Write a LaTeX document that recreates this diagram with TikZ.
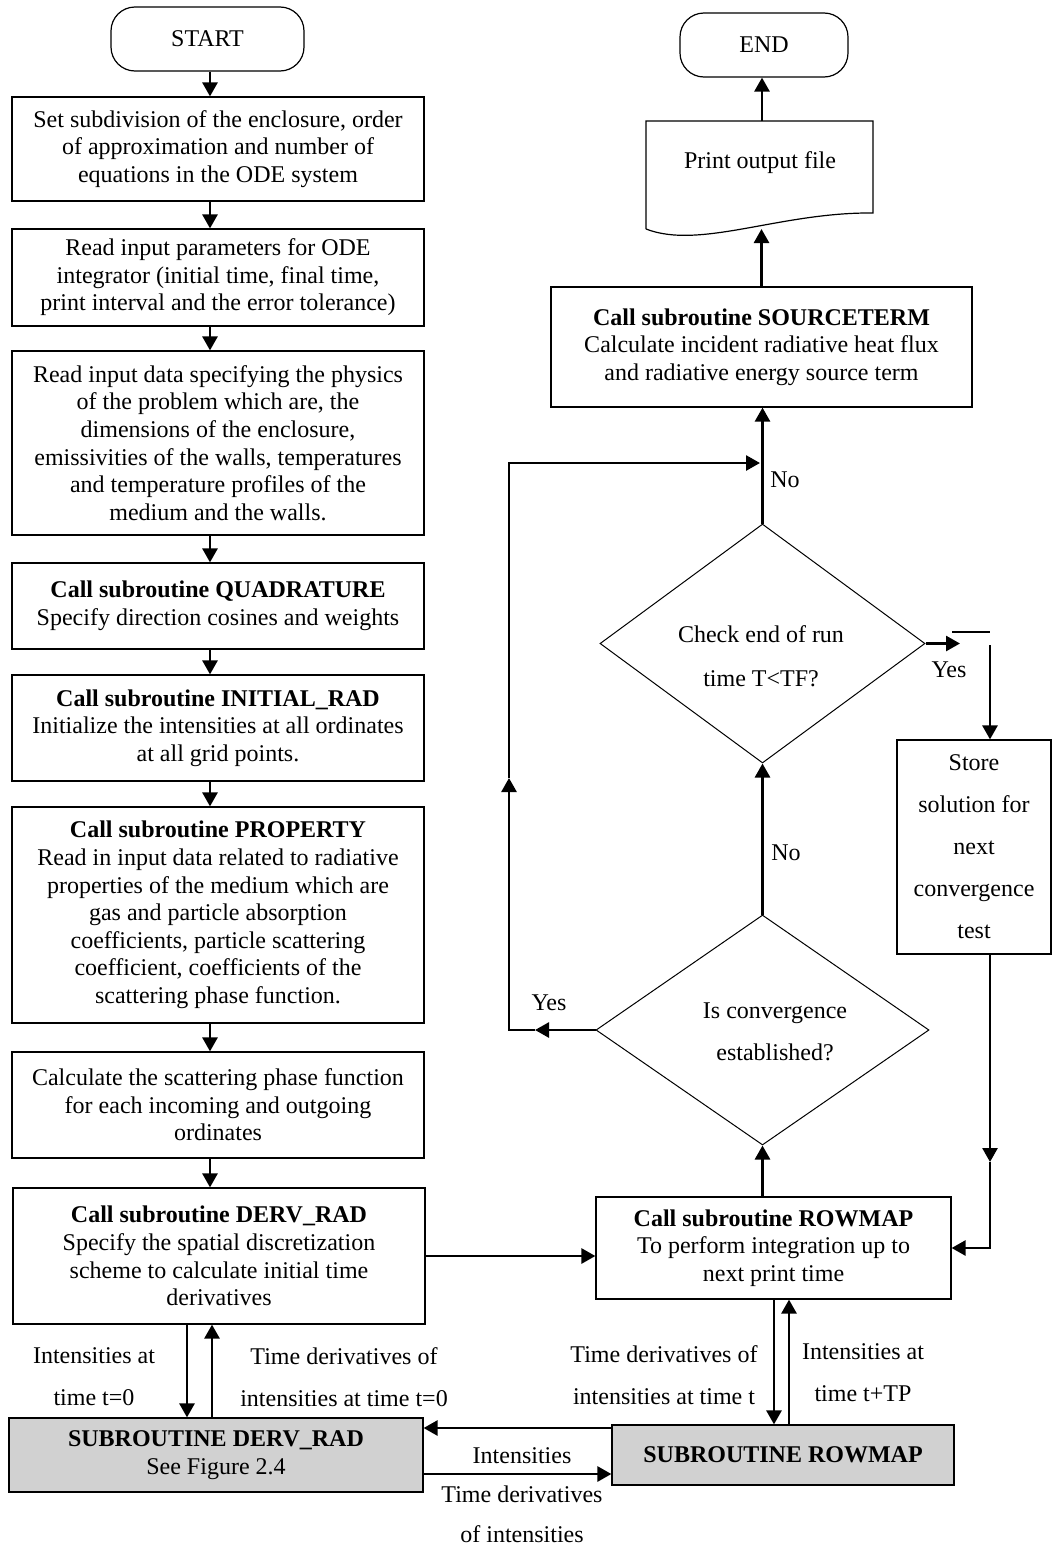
\documentclass[tikz,border=0pt]{standalone}
\usepackage{fontspec}
\setmainfont{Liberation Serif}
\usetikzlibrary{arrows.meta,shapes.geometric}
\definecolor{subgray}{RGB}{209,209,209}
\begin{document}
\begin{tikzpicture}[x=0.5pt,y=-0.5pt,
  every node/.style={font=\fontsize{12pt}{13.8pt}\selectfont, inner sep=0pt, align=center},
  box/.style={draw, line width=0.6pt},
  lbox/.style={box, minimum width=206pt},
  sub/.style={box, fill=subgray},
  term/.style={draw, line width=0.6pt, rounded corners=12pt},
  dia/.style={draw, line width=0.5pt, diamond},
  dbl/.style={font=\fontsize{12pt}{21pt}\selectfont},
  arr/.style={line width=1.35pt, -{Triangle[length=7pt,width=7.5pt]}},
  ln/.style={line width=1.35pt},
]
\useasboundingbox (0,0) rectangle (1053,1547);

% left column
\node[term, minimum width=96.5pt, minimum height=32pt] (start) at (207.5,39) {START};
\node[lbox, minimum height=52pt] (b1) at (218,149) {Set subdivision of the enclosure, order\\of approximation and number of\\equations in the ODE system};
\node[lbox, minimum height=48.5pt] (b2) at (218,277.5) {Read input parameters for ODE\\integrator (initial time, final time,\\print interval and the error tolerance)};
\node[lbox, minimum height=92pt] (b3) at (218,443) {Read input data specifying the physics\\of the problem which are, the\\dimensions of the enclosure,\\emissivities of the walls, temperatures\\and temperature profiles of the\\medium and the walls.};
\node[lbox, minimum height=43pt] (b4) at (218,606) {\textbf{Call subroutine QUADRATURE}\\Specify direction cosines and weights};
\node[lbox, minimum height=53pt] (b5) at (218,728) {\textbf{Call subroutine INITIAL\_RAD}\\Initialize the intensities at all ordinates\\at all grid points.};
\node[lbox, minimum height=108pt] (b6) at (218,915) {\textbf{Call subroutine PROPERTY}\\Read in input data related to radiative\\properties of the medium which are\\gas and particle absorption\\coefficients, particle scattering\\coefficient, coefficients of the\\scattering phase function.};
\node[lbox, minimum height=53pt] (b7) at (218,1105) {Calculate the scattering phase function\\for each incoming and outgoing\\ordinates};
\node[lbox, minimum height=68pt] (b8) at (219,1256) {\textbf{Call subroutine DERV\_RAD}\\Specify the spatial discretization\\scheme to calculate initial time\\derivatives};

% bottom subroutines
\node[sub, minimum width=207pt, minimum height=37pt] (sd) at (216,1455) {\textbf{SUBROUTINE DERV\_RAD}\\See Figure 2.4};
\node[sub, minimum width=171pt, minimum height=30pt] (sr) at (783,1455) {\textbf{SUBROUTINE ROWMAP}};

% right column
\node[box, minimum width=177.5pt, minimum height=51pt] (cr) at (773.5,1248) {\textbf{Call subroutine ROWMAP}\\To perform integration up to\\next print time};
\node[dia, minimum width=166.5pt, minimum height=115pt] (d2) at (762.5,1030) {};
\node[dbl] (d2t) at (775,1032) {Is convergence\\established?};
\node[dia, minimum width=162.5pt, minimum height=119.5pt] (d1) at (762.5,643.5) {};
\node[dbl, font=\fontsize{12pt}{22pt}\selectfont] (d1t) at (761,656) {Check end of run\\time T<TF?};
\node[box, minimum width=210.5pt, minimum height=60pt] (src) at (761.5,347) {\textbf{Call subroutine SOURCETERM}\\Calculate incident radiative heat flux\\and radiative energy source term};
\node (doc) at (760,163) {Print output file};
\draw[line width=0.6pt] (646,229) -- (646,121) -- (873,121) -- (873,213) .. controls (780,212) and (700,250) .. (646,229);
\node[term, minimum width=84pt, minimum height=32pt] (end) at (764,45) {END};
\node[box, minimum width=77pt, minimum height=107pt, font=\fontsize{12pt}{21pt}\selectfont] (store) at (974,847) {Store\\solution for\\next\\convergence\\test};

% helper coordinates
\coordinate (ax) at (210,0);
\coordinate (dnx) at (187,0);
\coordinate (upx) at (212,0);
\coordinate (rdx) at (774,0);
\coordinate (rux) at (789,0);
\coordinate (docb) at (761.5,229);
\coordinate (doct) at (762,121);
\coordinate (yx) at (960,0);
\coordinate (s1) at (952,632);
\coordinate (s2) at (990,632);
\coordinate (sx) at (990,645);
\coordinate (sm) at (990,1162);
\coordinate (ym) at (535,1030);
\coordinate (lc) at (509,1030);
\coordinate (lm) at (509,778);
\coordinate (lt) at (509,463);
\coordinate (le) at (760,463);
\coordinate (ytop) at (0,1428);
\coordinate (ybot) at (0,1474);

% left column arrows
\draw[arr] (start.south -| ax) -- (b1.north -| ax);
\draw[arr] (b1.south -| ax) -- (b2.north -| ax);
\draw[arr] (b2.south -| ax) -- (b3.north -| ax);
\draw[arr] (b3.south -| ax) -- (b4.north -| ax);
\draw[arr] (b4.south -| ax) -- (b5.north -| ax);
\draw[arr] (b5.south -| ax) -- (b6.north -| ax);
\draw[arr] (b6.south -| ax) -- (b7.north -| ax);
\draw[arr] (b7.south -| ax) -- (b8.north -| ax);

% DERV_RAD exchange
\draw[arr] (b8.south -| dnx) -- (sd.north -| dnx);
\draw[arr] (sd.north -| upx) -- (b8.south -| upx);
\draw[arr] (b8.east) -- (b8.east -| cr.west);

% ROWMAP exchange
\draw[arr] (cr.south -| rdx) -- (sr.north -| rdx);
\draw[arr] (sr.north -| rux) -- (cr.south -| rux);
\draw[arr] (sr.west |- ytop) -- (sd.east |- ytop);
\draw[arr] (sd.east |- ybot) -- (sr.west |- ybot);

% right column flow
\draw[arr] (d2.south |- cr.north) -- (d2.south);
\draw[arr] (d2.north) -- (d1.south);
\draw[arr] (d1.north) -- (d1.north |- src.south);
\draw[arr] (src.north) -- (docb);
\draw[arr] (doct) -- (doct |- end.south);

% Yes branch to store
\draw[arr] (d1.east) -- (d1.east -| yx);
\draw[ln] (s1) -- (s2);
\draw[arr] (sx) -- (sx |- store.north);
\draw[arr] (sx |- store.south) -- (sm);
\draw[arr] (sm) -- (sm |- cr.east) -- (cr.east);

% Yes loop from convergence
\draw[arr] (d2.west) -- (ym);
\draw[arr] (ym) -- (lc) -- (lm);
\draw[arr] (lm) -- (lt) -- (le);

% labels
\node[anchor=west] (no1) at (770,480) {No};
\node[anchor=west] (no2) at (771,853) {No};
\node (yes1) at (949,670) {Yes};
\node (yes2) at (549,1003) {Yes};
\node[dbl] (l1) at (94,1377) {Intensities at\\time t=0};
\node[dbl] (l2) at (344,1377) {Time derivatives of\\intensities at time t=0};
\node[dbl] (l3) at (664,1375.5) {Time derivatives of\\intensities at time t};
\node[dbl] (l4) at (863,1373) {Intensities at\\time t+TP};
\node (l5) at (522,1456) {Intensities};
\node[font=\fontsize{12pt}{20pt}\selectfont] (l6) at (522,1514) {Time derivatives\\of intensities};
\end{tikzpicture}
\end{document}
